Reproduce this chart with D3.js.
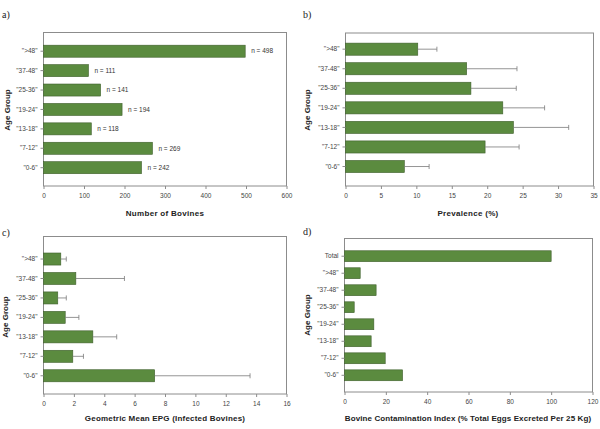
<!DOCTYPE html>
<html>
<head>
<meta charset="utf-8">
<script src="https://cdn.jsdelivr.net/npm/d3@7"></script>
<style>
  body { margin: 0; background: #fff; }
  svg { display: block; font-family: "Liberation Sans", Arial, sans-serif; }
</style>
</head>
<body>
<script>
// chart data
var ageGroups = ['">48"', '"37-48"', '"25-36"', '"19-24"', '"13-18"', '"7-12"', '"0-6"'];
var contamGroups = ["Total"].concat(ageGroups);

var bovineCounts = [498, 111, 141, 194, 118, 269, 242];
var prevalence = [10.2, 17.1, 17.7, 22.2, 23.7, 19.7, 8.3];
var prevalenceUpper = [12.9, 24.2, 24.1, 28.1, 31.5, 24.5, 11.8];
var epgMean = [1.14, 2.13, 0.94, 1.43, 3.25, 1.93, 7.32];
var epgUpper = [1.5, 5.33, 1.5, 2.33, 4.82, 2.63, 13.6];
var contamIndex = [100, 7.6, 15.3, 4.7, 14.2, 12.9, 19.7, 28.1];

var countTicks = [0, 100, 200, 300, 400, 500, 600];
var prevTicks = [0, 5, 10, 15, 20, 25, 30, 35];
var epgTicks = [0, 2, 4, 6, 8, 10, 12, 14, 16];
var contamTicks = [0, 20, 40, 60, 80, 100, 120];

var w = 600, h = 429;
var barFill = "#5b8b3f", barStroke = "#3f5f2c", frameCol = "#8c8c8c";

var svg = d3.select("body").append("svg").attr("width", w).attr("height", h);

function drawPanel(p) {
  var g = svg.append("g");

  var x = d3.scaleLinear()
    .domain([0, p.ticks[p.ticks.length - 1]])
    .range([p.left, p.right]);

  var y = d3.scaleBand()
    .domain(p.groups)
    .range(p.band)
    .paddingInner(p.padIn)
    .paddingOuter(p.padIn / 2);

  // frame
  g.append("rect")
    .attr("x", p.left).attr("y", p.top)
    .attr("width", p.right - p.left).attr("height", p.bottom - p.top)
    .attr("fill", "none").attr("stroke", frameCol).attr("stroke-width", 1);

  // bars
  g.selectAll("rect.bar")
    .data(p.values)
    .enter().append("rect")
    .attr("class", "bar")
    .attr("x", x(0))
    .attr("y", function(d, i) { return y(p.groups[i]); })
    .attr("width", function(d) { return x(d) - x(0); })
    .attr("height", y.bandwidth())
    .attr("fill", barFill)
    .attr("stroke", barStroke)
    .attr("stroke-width", 0.6);

  // error bars (upper side only)
  if (p.upper) {
    p.upper.forEach(function(u, i) {
      var cy = y(p.groups[i]) + y.bandwidth() / 2;
      g.append("line")
        .attr("x1", x(p.values[i])).attr("x2", x(u))
        .attr("y1", cy).attr("y2", cy)
        .attr("stroke", "#7a7a7a").attr("stroke-width", 0.8);
      g.append("line")
        .attr("x1", x(u)).attr("x2", x(u))
        .attr("y1", cy - 2.5).attr("y2", cy + 2.5)
        .attr("stroke", "#7a7a7a").attr("stroke-width", 0.8);
    });
  }

  // bar labels
  if (p.labels) {
    g.selectAll("text.nlab")
      .data(p.values)
      .enter().append("text")
      .attr("x", function(d) { return x(d) + 6; })
      .attr("y", function(d, i) { return y(p.groups[i]) + y.bandwidth() / 2; })
      .attr("dy", "0.35em")
      .attr("font-size", 6.5)
      .attr("fill", "#333")
      .text(function(d) { return "n = " + d; });
  }

  // x axis
  var xAxis = g.append("g")
    .attr("transform", "translate(0," + p.bottom + ")")
    .call(d3.axisBottom(x).tickValues(p.ticks).tickSize(3).tickSizeOuter(0).tickPadding(4));
  xAxis.select(".domain").remove();
  xAxis.selectAll("line").attr("stroke", frameCol);
  xAxis.selectAll("text").attr("font-size", 6.5).attr("fill", "#444")
    .attr("font-family", "Liberation Sans, Arial, sans-serif");

  // y axis
  var yAxis = g.append("g")
    .attr("transform", "translate(" + p.left + ",0)")
    .call(d3.axisLeft(y).tickSize(3).tickSizeOuter(0).tickPadding(3));
  yAxis.select(".domain").remove();
  yAxis.selectAll("line").attr("stroke", frameCol);
  yAxis.selectAll("text").attr("font-size", 6.5).attr("fill", "#444")
    .attr("font-family", "Liberation Sans, Arial, sans-serif");

  // titles
  g.append("text")
    .attr("x", p.titleX).attr("y", p.titleY)
    .attr("text-anchor", "middle")
    .attr("font-size", 8).attr("font-weight", "bold")
    .attr("letter-spacing", p.spacing)
    .attr("fill", "#222")
    .text(p.title);

  g.append("text")
    .attr("transform", "translate(" + p.ageX + "," + p.ageY + ") rotate(-90)")
    .attr("text-anchor", "middle")
    .attr("font-size", 8).attr("font-weight", "bold")
    .attr("fill", "#222")
    .text("Age Group");

  g.append("text")
    .attr("x", p.tagX).attr("y", p.tagY)
    .attr("font-family", "Liberation Serif, Times New Roman, serif")
    .attr("font-size", 10)
    .attr("fill", "#222")
    .text(p.tag);
}

drawPanel({
  tag: "a)", tagX: 2, tagY: 18,
  groups: ageGroups, values: bovineCounts, labels: true,
  ticks: countTicks,
  left: 43.5, right: 286.5, top: 32.5, bottom: 186,
  band: [41.5, 177.4], padIn: 0.38,
  title: "Number of Bovines", titleX: 165, titleY: 215.5, spacing: 0.3,
  ageX: 10, ageY: 110
});

drawPanel({
  tag: "b)", tagX: 303, tagY: 18,
  groups: ageGroups, values: prevalence, upper: prevalenceUpper,
  ticks: prevTicks,
  left: 345.5, right: 593.5, top: 33, bottom: 186,
  band: [39.4, 176.3], padIn: 0.38,
  title: "Prevalence (%)", titleX: 468, titleY: 215.5, spacing: 0.3,
  ageX: 310, ageY: 110
});

drawPanel({
  tag: "c)", tagX: 2, tagY: 236,
  groups: ageGroups, values: epgMean, upper: epgUpper,
  ticks: epgTicks,
  left: 43.5, right: 286.5, top: 236.5, bottom: 394,
  band: [249.3, 385.5], padIn: 0.38,
  title: "Geometric Mean EPG (Infected Bovines)", titleX: 165, titleY: 420.5, spacing: 0.2,
  ageX: 8, ageY: 317
});

drawPanel({
  tag: "d)", tagX: 303, tagY: 235,
  groups: contamGroups, values: contamIndex,
  ticks: contamTicks,
  left: 344.5, right: 592.5, top: 238.5, bottom: 392,
  band: [247.7, 383.8], padIn: 0.36,
  title: "Bovine Contamination Index (% Total Eggs Excreted Per 25 Kg)", titleX: 468, titleY: 421, spacing: 0.1,
  ageX: 310, ageY: 315
});
</script>
</body>
</html>
